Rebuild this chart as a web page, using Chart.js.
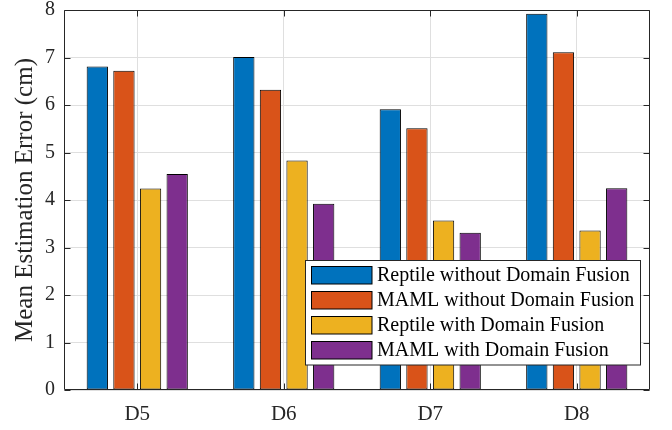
<!DOCTYPE html>
<html>
<head>
<meta charset="utf-8">
<script src="https://cdn.jsdelivr.net/npm/chart.js@4.4.1/dist/chart.umd.min.js"></script>
<style>
  html, body { margin: 0; padding: 0; background: #ffffff; }
  #wrap { width: 672px; height: 430px; }
</style>
</head>
<body>
<div id="wrap"><canvas id="c" width="672" height="430"></canvas></div>
<script>
// Datasets and their mean estimation errors (cm)
const categories = ['D5', 'D6', 'D7', 'D8'];
const seriesNames = [
  'Reptile without Domain Fusion',
  'MAML without Domain Fusion',
  'Reptile with Domain Fusion',
  'MAML with Domain Fusion'
];
const reptileNoFusion = [6.81, 7.01, 5.91, 7.92];
const mamlNoFusion    = [6.72, 6.32, 5.51, 7.11];
const reptileFusion   = [4.24, 4.83, 3.57, 3.36];
const mamlFusion      = [4.55, 3.92, 3.31, 4.25];
const yTicks = [0, 1, 2, 3, 4, 5, 6, 7, 8];

const seriesColors = ['#0072BD', '#D95319', '#EDB120', '#7E2F8E'];
const seriesValues = [reptileNoFusion, mamlNoFusion, reptileFusion, mamlFusion];

const SERIF = '"Liberation Serif", "Times New Roman", serif';
const AXIS_COLOR = '#262626';

// Axes box with inward tick marks
const boxPlugin = {
  id: 'boxTicks',
  afterDatasetsDraw(chart) {
    const { ctx, chartArea: a, scales } = chart;
    ctx.save();
    ctx.strokeStyle = AXIS_COLOR;
    ctx.lineWidth = 1;
    const L = Math.round(a.left) + 0.5, R = Math.round(a.right) - 0.5;
    const T = Math.round(a.top) + 0.5, B = Math.round(a.bottom) - 0.5;
    ctx.beginPath();
    ctx.rect(L, T, R - L, B - T);
    ctx.stroke();
    const tl = 6;
    ctx.beginPath();
    yTicks.forEach(v => {
      const y = Math.round(scales.y.getPixelForValue(v)) + 0.5;
      ctx.moveTo(L, y); ctx.lineTo(L + tl, y);
      ctx.moveTo(R, y); ctx.lineTo(R - tl, y);
    });
    categories.forEach((c, i) => {
      const x = Math.round(scales.x.getPixelForValue(i)) + 0.5;
      ctx.moveTo(x, B); ctx.lineTo(x, B - tl);
      ctx.moveTo(x, T); ctx.lineTo(x, T + tl);
    });
    ctx.stroke();
    ctx.restore();
  }
};

// Boxed legend placed inside the lower right of the plot
const insideLegend = {
  id: 'insideLegend',
  afterDraw(chart) {
    const { ctx } = chart;
    const ds = chart.data.datasets;
    const box = { x: 305.5, y: 260.5, w: 335, h: 104.5 };
    ctx.save();
    ctx.fillStyle = '#ffffff';
    ctx.fillRect(box.x, box.y, box.w, box.h);
    ctx.strokeStyle = AXIS_COLOR;
    ctx.lineWidth = 1;
    ctx.strokeRect(box.x, box.y, box.w, box.h);
    ctx.font = '20px ' + SERIF;
    ctx.textBaseline = 'middle';
    ctx.textAlign = 'left';
    ds.forEach((d, i) => {
      const sy = 266.5 + i * 25;
      ctx.fillStyle = d.backgroundColor;
      ctx.fillRect(311.5, sy, 60.5, 17.5);
      ctx.strokeStyle = '#000000';
      ctx.strokeRect(311.5, sy, 60.5, 17.5);
      ctx.fillStyle = '#000000';
      ctx.fillText(d.label, 377, sy + 9.5);
    });
    ctx.restore();
  }
};

new Chart(document.getElementById('c'), {
  type: 'bar',
  data: {
    labels: categories,
    datasets: seriesNames.map((name, i) => ({
      label: name,
      data: seriesValues[i],
      backgroundColor: seriesColors[i],
      borderColor: '#000000',
      borderWidth: 1,
      borderSkipped: false,
      barPercentage: 0.8,
      categoryPercentage: 0.727
    }))
  },
  options: {
    responsive: false,
    devicePixelRatio: 1,
    animation: false,
    layout: { padding: { top: 10, right: 22, left: 0, bottom: 0 } },
    plugins: {
      legend: { display: false },
      tooltip: { enabled: false }
    },
    scales: {
      x: {
        offset: true,
        grid: { offset: false, color: '#dfdfdf', drawTicks: false },
        border: { display: false },
        ticks: {
          font: { family: SERIF, size: 21 },
          color: AXIS_COLOR,
          padding: 12
        },
        afterFit(scale) {
          scale.height = 40;
          scale.paddingLeft = 0;
          scale.paddingRight = 0;
        }
      },
      y: {
        min: 0,
        max: 8,
        grid: { color: '#dfdfdf', drawTicks: false },
        border: { display: false },
        ticks: {
          stepSize: 1,
          font: { family: SERIF, size: 20 },
          color: AXIS_COLOR,
          padding: 9
        },
        title: {
          display: true,
          text: 'Mean Estimation Error (cm)',
          font: { family: SERIF, size: 25 },
          color: AXIS_COLOR,
          padding: { top: 10, bottom: 0 }
        },
        afterFit(scale) {
          scale.width = 64;
          scale.paddingTop = 0;
          scale.paddingBottom = 0;
        }
      }
    }
  },
  plugins: [boxPlugin, insideLegend]
});
</script>
</body>
</html>
